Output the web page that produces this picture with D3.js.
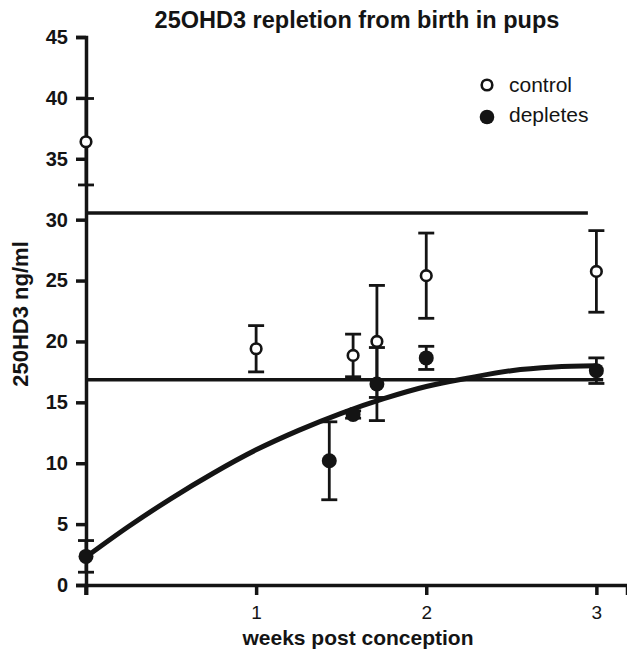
<!DOCTYPE html>
<html>
<head>
<meta charset="utf-8">
<script src="https://cdn.jsdelivr.net/npm/d3@7"></script>
<style>
    body { margin: 0; background: #fff; }
    svg { display: block; font-family: 'Liberation Sans', Arial, sans-serif; }
</style>
</head>
<body>
<svg id="chart" width="627" height="650"></svg>
<script>
// weeks post conception (days / 7)
var controlWeeks = [0, 1, 1.57, 1.71, 2, 3]
var controlMean = [36.4, 19.4, 18.85, 20.0, 25.4, 25.75]
var controlErr = [3.55, 1.9, 1.75, 4.6, 3.5, 3.35]

var depletesWeeks = [0, 1.43, 1.57, 1.71, 2, 3]
var depletesMean = [2.35, 10.2, 14.0, 16.5, 18.65, 17.6]
var depletesErr = [1.3, 3.2, 0.3, 3.0, 0.95, 1.05]

// fitted curve
var fitWeeks = [0, 0.25, 0.5, 0.75, 1, 1.25, 1.5, 1.75, 2, 2.25, 2.5, 2.75, 3]
var fitValues = [2.3, 4.8, 7.1, 9.2, 11.1, 12.7, 14.1, 15.3, 16.3, 17.0, 17.6, 17.9, 18.0]

// horizontal reference lines
var refLevels = [30.55, 16.85]
var refEnds = [2.95, 3.04]

var yTicks = [0, 5, 10, 15, 20, 25, 30, 35, 40, 45]
var xTicks = [0, 1, 2, 3]
var xTickLabels = ['', '1', '2', '3']

var ink = '#141414'

var svg = d3.select('#chart')

var x = d3.scaleLinear().domain([0, 3.18]).range([86, 627])
var y = d3.scaleLinear().domain([0, 45]).range([585, 37])

// axes
var xAxis = svg.append('g')
    .attr('transform', 'translate(0,' + y(0) + ')')
    .call(d3.axisBottom(x).tickValues(xTicks).tickSizeOuter(0).tickSize(10)
        .tickFormat(function(d, i) { return xTickLabels[i] }))
xAxis.select('.domain').attr('stroke', ink).attr('stroke-width', 3.5)
xAxis.selectAll('.tick line').attr('stroke', ink).attr('stroke-width', 3.5)
xAxis.selectAll('.tick text')
    .attr('y', 21)
    .style('font-size', '19px')
    .style('font-family', "'Liberation Sans', Arial, sans-serif")
    .attr('fill', ink)

var yAxis = svg.append('g')
    .attr('transform', 'translate(' + x(0) + ',0)')
    .call(d3.axisLeft(y).tickValues(yTicks).tickSizeOuter(0).tickSize(10))
yAxis.select('.domain').attr('stroke', ink).attr('stroke-width', 3.5)
yAxis.selectAll('.tick line').attr('stroke', ink).attr('stroke-width', 3.5)
yAxis.selectAll('.tick text')
    .attr('x', -18)
    .style('font-size', '20px')
    .style('font-weight', 'bold')
    .style('font-family', "'Liberation Sans', Arial, sans-serif")
    .attr('fill', ink)
// y axis runs on below zero like the x tick at 0
yAxis.append('line')
    .attr('x1', 0).attr('x2', 0)
    .attr('y1', y(0)).attr('y2', y(0) + 10)
    .attr('stroke', ink).attr('stroke-width', 3.5)

// reference lines
svg.append('g').selectAll('line')
    .data(refLevels)
    .enter()
    .append('line')
    .attr('x1', x(0))
    .attr('x2', function(d, i) { return x(refEnds[i]) })
    .attr('y1', function(d) { return y(d) })
    .attr('y2', function(d) { return y(d) })
    .attr('stroke', ink)
    .attr('stroke-width', 3.5)

// fit curve
var fit = fitWeeks.map(function(w, i) { return [w, fitValues[i]] })
svg.append('path')
    .datum(fit)
    .attr('fill', 'none')
    .attr('stroke', ink)
    .attr('stroke-width', 5)
    .attr('d', d3.line()
        .x(function(d) { return x(d[0]) })
        .y(function(d) { return y(d[1]) })
        .curve(d3.curveMonotoneX))

function drawSeries(weeks, mean, err) {
    var pts = weeks.map(function(w, i) { return { w: w, m: mean[i], e: err[i] } })
    var g = svg.append('g')
    var bars = g.selectAll('g.bar')
        .data(pts)
        .enter()
        .append('g')
        .attr('class', 'bar')
    bars.append('line')
        .attr('x1', function(d) { return x(d.w) })
        .attr('x2', function(d) { return x(d.w) })
        .attr('y1', function(d) { return y(d.m - d.e) })
        .attr('y2', function(d) { return y(d.m + d.e) })
    bars.append('line')
        .attr('x1', function(d) { return x(d.w) - 8 })
        .attr('x2', function(d) { return x(d.w) + 8 })
        .attr('y1', function(d) { return y(d.m + d.e) })
        .attr('y2', function(d) { return y(d.m + d.e) })
    bars.append('line')
        .attr('x1', function(d) { return x(d.w) - 8 })
        .attr('x2', function(d) { return x(d.w) + 8 })
        .attr('y1', function(d) { return y(d.m - d.e) })
        .attr('y2', function(d) { return y(d.m - d.e) })
    bars.selectAll('line')
        .attr('stroke', ink)
        .attr('stroke-width', 2.8)
    return g
}

var controlG = drawSeries(controlWeeks, controlMean, controlErr)
var depletesG = drawSeries(depletesWeeks, depletesMean, depletesErr)

depletesG.selectAll('circle')
    .data(depletesWeeks)
    .enter()
    .append('circle')
    .attr('cx', function(d) { return x(d) })
    .attr('cy', function(d, i) { return y(depletesMean[i]) })
    .attr('r', 7.5)
    .attr('fill', ink)

controlG.selectAll('circle')
    .data(controlWeeks)
    .enter()
    .append('circle')
    .attr('cx', function(d) { return x(d) })
    .attr('cy', function(d, i) { return y(controlMean[i]) })
    .attr('r', 5.3)
    .attr('fill', '#fff')
    .attr('stroke', ink)
    .attr('stroke-width', 2.6)

// legend
var legend = svg.append('g')
legend.append('circle')
    .attr('cx', 487).attr('cy', 85).attr('r', 5.3)
    .attr('fill', '#fff').attr('stroke', ink).attr('stroke-width', 2.6)
legend.append('text')
    .attr('x', 509).attr('y', 92)
    .style('font-size', '21px')
    .attr('fill', ink)
    .text('control')
legend.append('circle')
    .attr('cx', 487).attr('cy', 117).attr('r', 7.3)
    .attr('fill', ink)
legend.append('text')
    .attr('x', 509).attr('y', 122)
    .style('font-size', '21px')
    .attr('fill', ink)
    .text('depletes')

// titles
svg.append('text')
    .attr('x', 357).attr('y', 28)
    .attr('text-anchor', 'middle')
    .style('font-size', '23.5px')
    .style('font-weight', 'bold')
    .attr('fill', ink)
    .text('25OHD3 repletion from birth in pups')

svg.append('text')
    .attr('x', 358).attr('y', 645)
    .attr('text-anchor', 'middle')
    .style('font-size', '21px')
    .style('font-weight', 'bold')
    .attr('fill', ink)
    .text('weeks post conception')

svg.append('text')
    .attr('transform', 'translate(28,314) rotate(-90)')
    .attr('text-anchor', 'middle')
    .style('font-size', '22px')
    .style('font-weight', 'bold')
    .attr('fill', ink)
    .text('250HD3 ng/ml')
</script>
</body>
</html>
